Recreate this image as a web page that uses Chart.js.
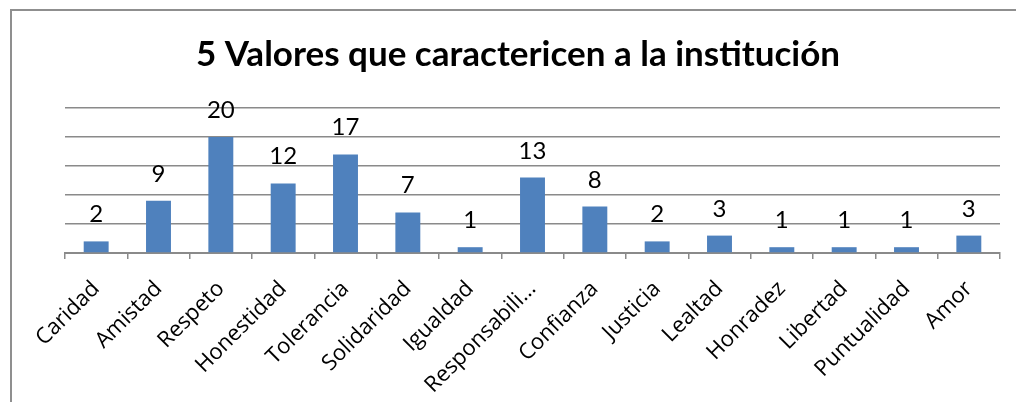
<!DOCTYPE html>
<html lang="es">
<head>
  <meta charset="UTF-8">
  <title>5 Valores</title>
  <script src="https://cdn.jsdelivr.net/npm/chart.js@4.4.1/dist/chart.umd.min.js"></script>
  <style>
    body {
      margin: 0;
      background: #fff;
    }
    .wrap {
      position: relative;
      width: 1016px;
      height: 402px;
      overflow: hidden;
    }
    /* marco del gráfico */
    .frame {
      position: absolute;
      left: 10px;
      top: 9px;
      width: 1100px;
      height: 500px;
      border-top: 2px solid #8f8f8f;
      border-left: 2px solid #8f8f8f;
    }
    canvas {
      position: absolute;
      left: 0;
      top: 0;
    }
  </style>
</head>
<body>
  <div class="wrap">
    <div class="frame"></div>
    <canvas id="valores" width="1016" height="402"></canvas>
  </div>
  <script>
    // datos
    const categorias = ["Caridad", "Amistad", "Respeto", "Honestidad", "Tolerancia", "Solidaridad",
      "Igualdad", "Responsabili\u2026", "Confianza", "Justicia", "Lealtad", "Honradez",
      "Libertad", "Puntualidad", "Amor"];
    const votos = [2, 9, 20, 12, 17, 7, 1, 13, 8, 2, 3, 1, 1, 1, 3];
    const titulo = "5 Valores que caractericen a la institución";

    const gris = "#8a8a8a";
    const fuente = "Lato, 'Open Sans', sans-serif";
    const fuenteEje = "'Open Sans', sans-serif";

    // etiquetas de valor encima de cada barra
    const etiquetas = {
      id: "etiquetas",
      afterDatasetsDraw(chart) {
        const ctx = chart.ctx;
        const meta = chart.getDatasetMeta(0);
        ctx.save();
        ctx.fillStyle = "#000";
        ctx.font = "24px " + fuente;
        ctx.textAlign = "center";
        ctx.textBaseline = "alphabetic";
        meta.data.forEach((bar, i) => {
          ctx.fillText(votos[i], bar.x, bar.y - 19);
        });
        ctx.restore();
      }
    };

    new Chart(document.getElementById("valores"), {
      type: "bar",
      data: {
        labels: categorias,
        datasets: [{
          data: votos,
          backgroundColor: "#4f81bd",
          categoryPercentage: 1,
          barPercentage: 0.4
        }]
      },
      options: {
        responsive: false,
        animation: false,
        layout: { padding: { left: 36, right: 16, top: 0, bottom: 0 } },
        plugins: {
          legend: { display: false },
          tooltip: { enabled: false },
          title: {
            display: true,
            text: titulo,
            color: "#000",
            font: { family: fuente, size: 35, weight: "bold" },
            padding: { top: 34, bottom: 32 }
          }
        },
        scales: {
          y: {
            min: 0,
            max: 25,
            ticks: { display: false, stepSize: 5 },
            border: { display: false },
            grid: { color: gris, lineWidth: 1.5, drawTicks: false },
            afterFit(scale) { scale.width = 29; }
          },
          x: {
            border: { display: true, color: gris, width: 2 },
            grid: { drawOnChartArea: false, drawTicks: true, tickLength: 6, color: gris, lineWidth: 1.5 },
            ticks: {
              color: "#000",
              font: { family: fuenteEje, size: 22 },
              minRotation: 45,
              maxRotation: 45,
              autoSkip: false,
              padding: 17
            },
            afterFit(scale) { scale.height = 149; }
          }
        }
      },
      plugins: [etiquetas]
    });
  </script>
</body>
</html>
